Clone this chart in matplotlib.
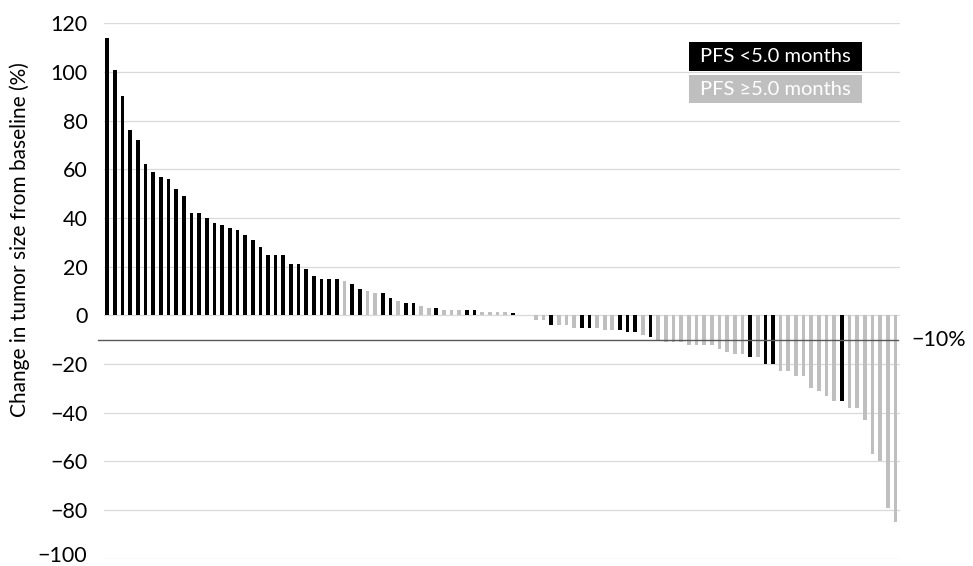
import matplotlib
matplotlib.use("Agg")
import matplotlib.pyplot as plt
import matplotlib.transforms as mtransforms
from matplotlib.patches import Rectangle

plt.rcParams['font.family'] = ['Lato', 'DejaVu Sans']

# Best change in tumor size per patient (%), sorted high to low
change = [114, 101, 90, 76, 72, 62, 59, 57, 56, 52,
          49, 42, 42, 40, 38, 37, 36, 35, 33, 31,
          28, 25, 25, 25, 21, 21, 19, 16, 15, 15,
          15, 14, 13, 11, 10, 9, 9, 7, 6, 5,
          5, 4, 3, 3, 2, 2, 2, 2, 2, 1.5,
          1.5, 1.5, 1.5, 1, 0, 0, -2, -2, -4, -4,
          -4, -5, -5, -5, -5, -6, -6, -6, -7, -7,
          -8, -9, -10, -11, -11, -11, -12, -12, -12, -12,
          -14, -15, -16, -16, -17, -17, -20, -20, -23, -23,
          -25, -25, -30, -31, -33, -35, -35, -38, -38, -43,
          -57, -60, -79, -85]

# PFS group per patient: 1 = PFS <5.0 months, 0 = PFS >=5.0 months
short_pfs = [1, 1, 1, 1, 1, 1, 1, 1, 1, 1,
             1, 1, 1, 1, 1, 1, 1, 1, 1, 1,
             1, 1, 1, 1, 1, 1, 1, 1, 1, 1,
             1, 0, 1, 1, 0, 0, 1, 1, 0, 1,
             1, 0, 0, 1, 0, 0, 0, 1, 1, 0,
             0, 0, 0, 1, 0, 0, 0, 0, 1, 0,
             0, 0, 1, 1, 0, 0, 0, 1, 1, 1,
             0, 1, 0, 0, 0, 0, 0, 0, 0, 0,
             0, 0, 0, 0, 1, 0, 1, 1, 0, 0,
             0, 0, 0, 0, 0, 0, 1, 0, 0, 0,
             0, 0, 0, 0]

legend_labels = ["PFS <5.0 months", "PFS \u22655.0 months"]
yticks = [120, 100, 80, 60, 40, 20, 0, -20, -40, -60, -80, -100]
threshold = -10

BLACK = "#000000"
GREY = "#bfbfbf"

fig = plt.figure(figsize=(9.73, 5.66), dpi=100)
ax = fig.add_axes([0.1069, 0.0129, 0.8181, 0.9459])

x = list(range(1, len(change) + 1))
colors = [BLACK if s else GREY for s in short_pfs]
ax.bar(x, change, width=0.48, color=colors, zorder=2)

ax.set_xlim(0.57, 104.6)
ax.set_ylim(-100, 120)
ax.set_yticks(yticks)
ax.set_xticks([])
ax.tick_params(axis="y", length=0, pad=12, labelsize=15.5)
ax.yaxis.grid(True, color="#d9d9d9", linewidth=0.9, zorder=0)
ax.set_axisbelow(True)
for s in ax.spines.values():
    s.set_visible(False)

# lift the bottom tick label so it stays inside the figure
bottom_lbl = ax.get_yticklabels()[-1]
bottom_lbl.set_transform(bottom_lbl.get_transform() +
                         mtransforms.ScaledTranslation(0, 5 / 100, fig.dpi_scale_trans))

# -10% reference line
trans = mtransforms.blended_transform_factory(ax.transAxes, ax.transData)
ax.plot([-0.008, 0.998], [threshold, threshold], color="#595959",
        linewidth=1.0, transform=trans, clip_on=False, zorder=3)
ax.text(1.014, threshold, "\u221210%", transform=trans, fontsize=15.5,
        ha="left", va="center")

fig.text(20 / 973, 0.576, "Change in tumor size from baseline (%)",
         rotation=90, ha="center", va="center", fontsize=15)

# legend boxes
for (y0, h), col, lab in zip([(0.8746, 0.0518), (0.8175, 0.050)],
                             [BLACK, GREY], legend_labels):
    fig.patches.append(Rectangle((0.7081, y0), 0.1778, h, transform=fig.transFigure,
                                 facecolor=col, edgecolor="none", zorder=5))
    fig.text(0.7194, y0 + h / 2, lab, color="white", fontsize=14.5,
             ha="left", va="center", zorder=6)

fig.savefig("out.png", dpi=100)
